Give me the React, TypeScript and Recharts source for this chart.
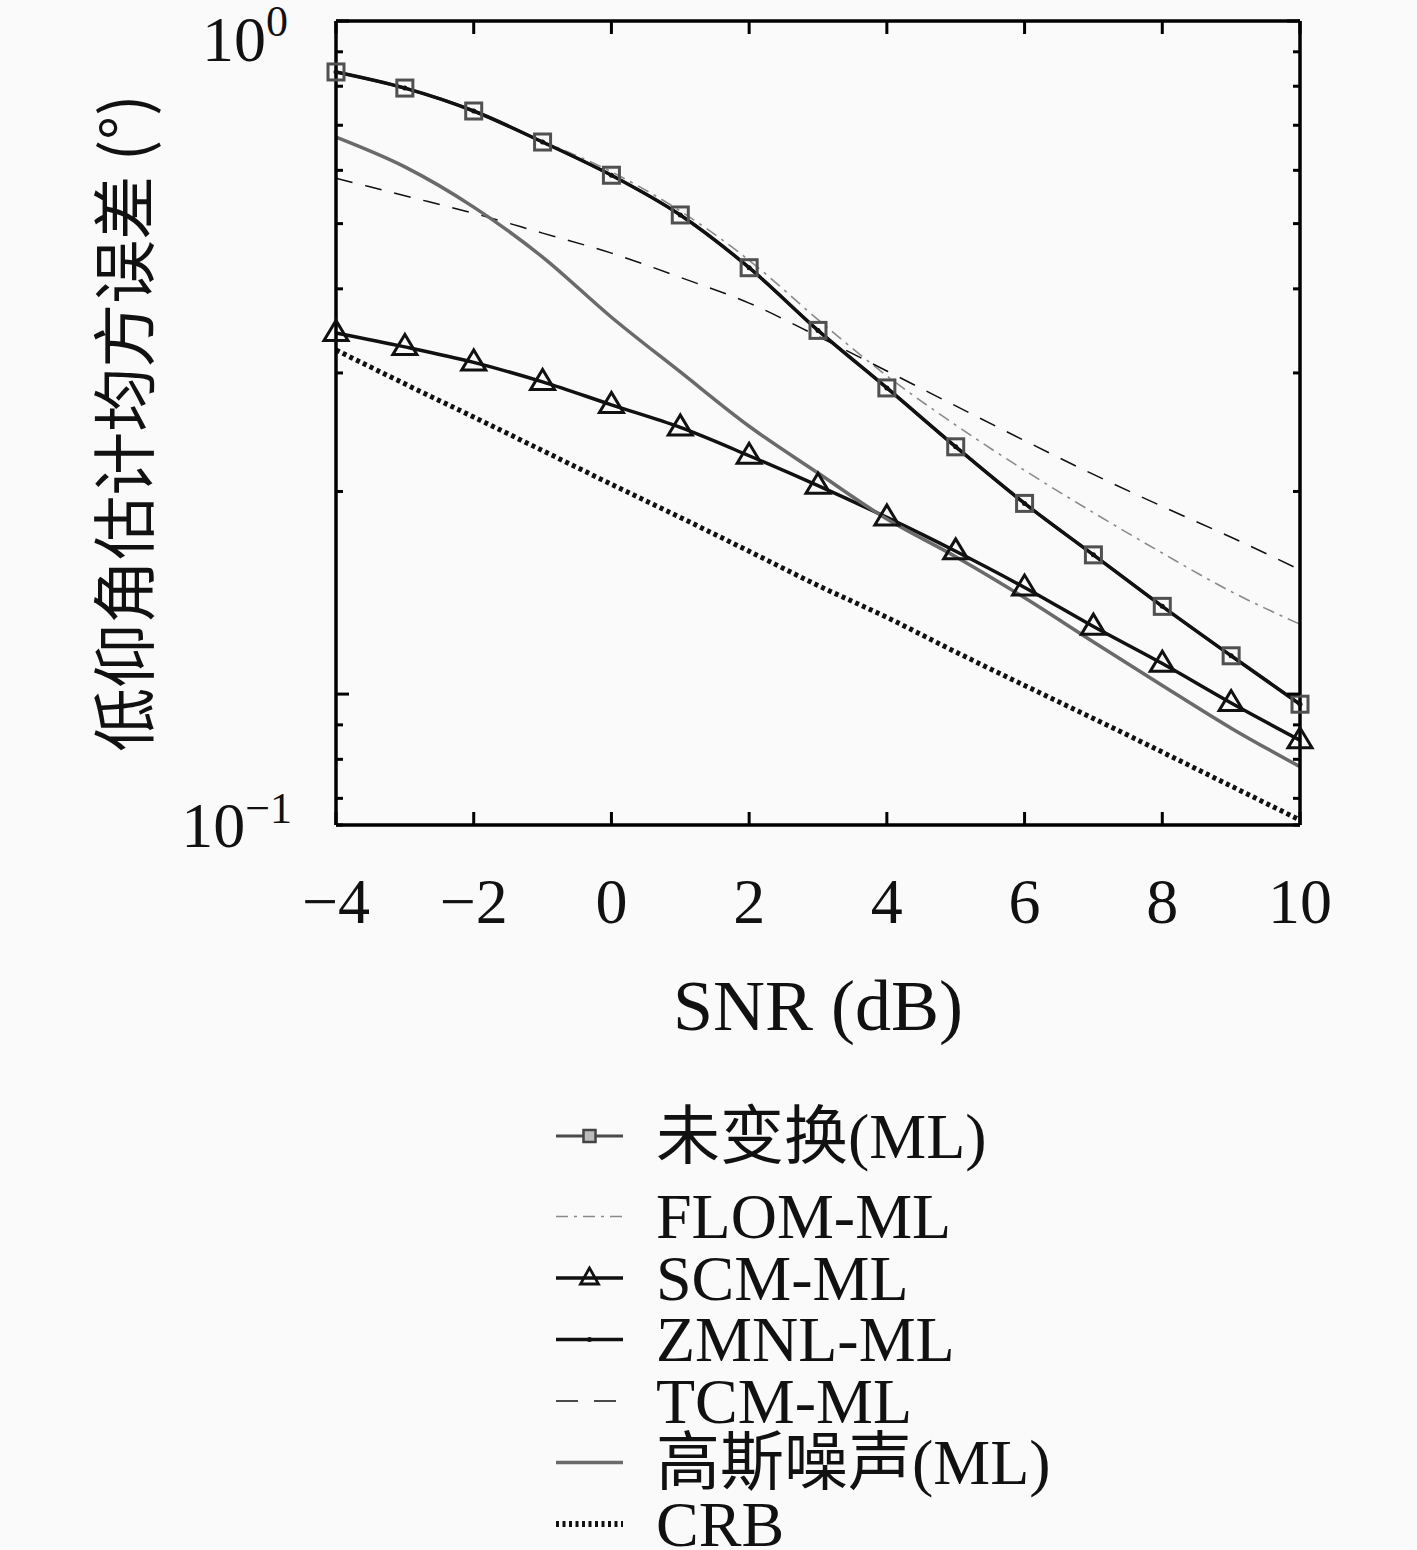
import { Legend, Line, LineChart, XAxis, YAxis } from "recharts";

// SNR (dB) on the x axis
const SNR_DB = [-4, -3, -2, -1, 0, 1, 2, 3, 4, 5, 6, 7, 8, 9, 10];

// RMSE of the low elevation estimate (degrees)
const UNTRANSFORMED_ML = [0.84, 0.795, 0.735, 0.661, 0.59, 0.515, 0.43, 0.347, 0.285, 0.233, 0.192, 0.161, 0.135, 0.114, 0.0966];
const FLOM_ML = [0.84, 0.795, 0.735, 0.663, 0.597, 0.522, 0.441, 0.36, 0.297, 0.251, 0.215, 0.186, 0.162, 0.142, 0.127];
const SCM_ML = [0.344, 0.328, 0.311, 0.291, 0.269, 0.249, 0.226, 0.204, 0.183, 0.163, 0.144, 0.126, 0.111, 0.097, 0.0854];
const ZMNL_ML = [0.84, 0.795, 0.735, 0.661, 0.59, 0.515, 0.43, 0.347, 0.285, 0.233, 0.192, 0.161, 0.135, 0.114, 0.0966];
const TCM_ML = [0.584, 0.55, 0.518, 0.484, 0.452, 0.416, 0.381, 0.34, 0.302, 0.268, 0.238, 0.212, 0.19, 0.171, 0.153];
const GAUSS_ML = [0.672, 0.607, 0.529, 0.446, 0.363, 0.301, 0.25, 0.213, 0.182, 0.16, 0.139, 0.1195, 0.103, 0.089, 0.078];
const CRB = [0.3245, 0.289, 0.258, 0.23, 0.205, 0.183, 0.163, 0.145, 0.13, 0.1155, 0.103, 0.092, 0.082, 0.073, 0.065];

const X_TICKS = [-4, -2, 0, 2, 4, 6, 8, 10];
const Y_MIN = 0.0639;
const Y_MAX = 1;
const Y_TICKS = [Y_MIN, 0.07, 0.08, 0.09, 0.1, 0.2, 0.3, 0.4, 0.5, 0.6, 0.7, 0.8, 0.9, Y_MAX];
const Y_MAJOR = [0.1, Y_MAX];

const SERIES_NAMES = ["未变换(ML)", "FLOM-ML", "SCM-ML", "ZMNL-ML", "TCM-ML", "高斯噪声(ML)", "CRB"];

const data = SNR_DB.map((snr, i) => ({
  snr,
  untransformed: UNTRANSFORMED_ML[i],
  flom: FLOM_ML[i],
  scm: SCM_ML[i],
  zmnl: ZMNL_ML[i],
  tcm: TCM_ML[i],
  gauss: GAUSS_ML[i],
  crb: CRB[i],
}));

const FONT = "'Liberation Serif', 'DejaVu Serif', 'Noto Sans CJK SC', serif";
const CJK_FONT = "'Noto Sans CJK SC', 'Liberation Serif', serif";

const squareDot = (size: number, stroke: string) => (props: any) => {
  const { cx, cy, index } = props;
  return (
    <rect
      key={`sq-${index}`}
      x={cx - size / 2}
      y={cy - size / 2}
      width={size}
      height={size}
      fill="none"
      stroke={stroke}
      strokeWidth={3}
    />
  );
};

const triangleDot = (w: number, h: number) => (props: any) => {
  const { cx, cy, index } = props;
  const pts = `${cx},${cy - h * 0.62} ${cx - w / 2},${cy + h * 0.38} ${cx + w / 2},${cy + h * 0.38}`;
  return <polygon key={`tr-${index}`} points={pts} fill="none" stroke="#111" strokeWidth={3} />;
};

const smallDot = (props: any) => {
  const { cx, cy, index } = props;
  return <circle key={`dt-${index}`} cx={cx} cy={cy} r={2.5} fill="#111" />;
};

const SERIES = [
  { key: "untransformed", stroke: "#4a4a4a", width: 3, dash: undefined, dot: squareDot(16, "#505050") },
  { key: "flom", stroke: "#8a8a8a", width: 1.6, dash: "12 6 3 6", dot: false },
  { key: "scm", stroke: "#111", width: 3.5, dash: undefined, dot: triangleDot(24, 20) },
  { key: "zmnl", stroke: "#111", width: 3.5, dash: undefined, dot: smallDot },
  { key: "tcm", stroke: "#111", width: 1.5, dash: "17 13", dot: false },
  { key: "gauss", stroke: "#6a6a6a", width: 3.5, dash: undefined, dot: false },
  { key: "crb", stroke: "#111", width: 5, dash: "4 3.5", dot: false },
];

const BottomTick = (props: any) => {
  const { x, y, payload } = props;
  const v = payload.value;
  const label = v < 0 ? `\u2212${Math.abs(v)}` : `${v}`;
  return (
    <g>
      <line x1={x} x2={x} y1={y} y2={y - 13} stroke="#000" strokeWidth={3} />
      <text x={x} y={y + 98} textAnchor="middle" fontSize={64} fontFamily={FONT} fill="#111">
        {label}
      </text>
    </g>
  );
};

const TopTick = (props: any) => {
  const { x, y } = props;
  return <line x1={x} x2={x} y1={y} y2={y + 13} stroke="#000" strokeWidth={3} />;
};

const LeftTick = (props: any) => {
  const { x, y, payload } = props;
  const v = payload.value;
  const len = Y_MAJOR.includes(v) ? 13 : 7;
  let label = null;
  if (v === Y_MAX) {
    label = (
      <text x={x - 48} y={y + 40} textAnchor="end" fontSize={64} fontFamily={FONT} fill="#111">
        10
        <tspan fontSize={44} dy={-25}>0</tspan>
      </text>
    );
  } else if (v === Y_MIN) {
    label = (
      <text x={x - 44} y={y + 22} textAnchor="end" fontSize={64} fontFamily={FONT} fill="#111">
        10
        <tspan fontSize={44} dy={-24}>{"\u22121"}</tspan>
      </text>
    );
  }
  return (
    <g>
      <line x1={x} x2={x + len} y1={y} y2={y} stroke="#000" strokeWidth={3} />
      {label}
    </g>
  );
};

const RightTick = (props: any) => {
  const { x, y, payload } = props;
  const len = Y_MAJOR.includes(payload.value) ? 13 : 7;
  return <line x1={x} x2={x - len} y1={y} y2={y} stroke="#000" strokeWidth={3} />;
};

const YLabel = (props: any) => {
  const { viewBox } = props;
  const cx = viewBox.x + 120;
  const cy = 423;
  return (
    <text
      x={cx}
      y={cy}
      transform={`rotate(-90, ${cx}, ${cy})`}
      textAnchor="middle"
      dominantBaseline="central"
      fontSize={64}
      fontFamily={CJK_FONT}
      fill="#111"
    >
      低仰角估计均方误差 (°)
    </text>
  );
};

const XLabel = (props: any) => {
  const { viewBox } = props;
  return (
    <text
      x={viewBox.x + viewBox.width / 2}
      y={1030}
      textAnchor="middle"
      fontSize={72}
      fontFamily={FONT}
      fill="#111"
    >
      SNR (dB)
    </text>
  );
};

const LegendSample = ({ s, y }: { s: any; y: number }) => {
  const x1 = 556;
  const x2 = 623;
  const mid = (x1 + x2) / 2;
  let marker = null;
  if (s.key === "untransformed") {
    marker = <rect x={mid - 6} y={y - 6} width={12} height={12} fill="#bbb" stroke="#444" strokeWidth={2.5} />;
  } else if (s.key === "scm") {
    marker = <polygon points={`${mid},${y - 10} ${mid - 9},${y + 6} ${mid + 9},${y + 6}`} fill="none" stroke="#111" strokeWidth={2.8} />;
  } else if (s.key === "zmnl") {
    marker = <circle cx={mid} cy={y} r={2.5} fill="#111" />;
  }
  return (
    <g>
      <line
        x1={x1}
        x2={x2}
        y1={y}
        y2={y}
        stroke={s.stroke}
        strokeWidth={s.key === "crb" ? 6 : s.width}
        strokeDasharray={s.key === "tcm" ? "22 16" : s.key === "crb" ? "3 3.5" : s.dash}
      />
      {marker}
    </g>
  );
};

const renderLegend = () => (
  <svg width={1417} height={450} style={{ display: "block" }}>
    {SERIES.map((s, i) => {
      const y = 36 + i * 61.5 + (i > 0 ? 19 : 0);
      return (
        <g key={s.key}>
          <LegendSample s={s} y={y} />
          <text
            x={656}
            y={y}
            dominantBaseline="central"
            fontSize={64}
            fontFamily={FONT}
            fill="#111"
          >
            {SERIES_NAMES[i]}
          </text>
        </g>
      );
    })}
  </svg>
);

export default function App() {
  return (
    <div style={{ position: "absolute", left: 0, top: 0, background: "#fafafa" }}>
      <LineChart
        width={1417}
        height={1550}
        data={data}
        margin={{ top: 20, right: 116, left: 0, bottom: 525 }}
      >
        <XAxis
          dataKey="snr"
          type="number"
          domain={[-4, 10]}
          ticks={X_TICKS}
          interval={0}
          height={200}
          tickSize={0}
          tickMargin={0}
          tick={<BottomTick />}
          axisLine={{ stroke: "#000", strokeWidth: 3.5 }}
          tickLine={false}
          label={{ content: <XLabel /> }}
        />
        <XAxis
          xAxisId="top"
          orientation="top"
          dataKey="snr"
          type="number"
          domain={[-4, 10]}
          ticks={X_TICKS}
          interval={0}
          height={1}
          tickSize={0}
          tickMargin={0}
          tick={<TopTick />}
          axisLine={{ stroke: "#000", strokeWidth: 3.5 }}
          tickLine={false}
        />
        <YAxis
          type="number"
          scale="log"
          domain={[Y_MIN, Y_MAX]}
          allowDataOverflow
          ticks={Y_TICKS}
          interval={0}
          width={336}
          tickSize={0}
          tickMargin={0}
          tick={<LeftTick />}
          axisLine={{ stroke: "#000", strokeWidth: 3.5 }}
          tickLine={false}
          label={{ content: <YLabel /> }}
        />
        <YAxis
          yAxisId="right"
          orientation="right"
          type="number"
          scale="log"
          domain={[Y_MIN, Y_MAX]}
          allowDataOverflow
          ticks={Y_TICKS}
          interval={0}
          width={1}
          tickSize={0}
          tickMargin={0}
          tick={<RightTick />}
          axisLine={{ stroke: "#000", strokeWidth: 3.5 }}
          tickLine={false}
        />
        {SERIES.map((s, i) => (
          <Line
            key={s.key}
            dataKey={s.key}
            name={SERIES_NAMES[i]}
            type="monotone"
            stroke={s.stroke}
            strokeWidth={s.width}
            strokeDasharray={s.dash}
            dot={s.dot as any}
            activeDot={false}
            isAnimationActive={false}
          />
        ))}
        <Legend
          layout="vertical"
          align="center"
          verticalAlign="middle"
          content={renderLegend}
          wrapperStyle={{ left: 0, top: 1100, width: 1417, height: 450 }}
        />
      </LineChart>
    </div>
  );
}
